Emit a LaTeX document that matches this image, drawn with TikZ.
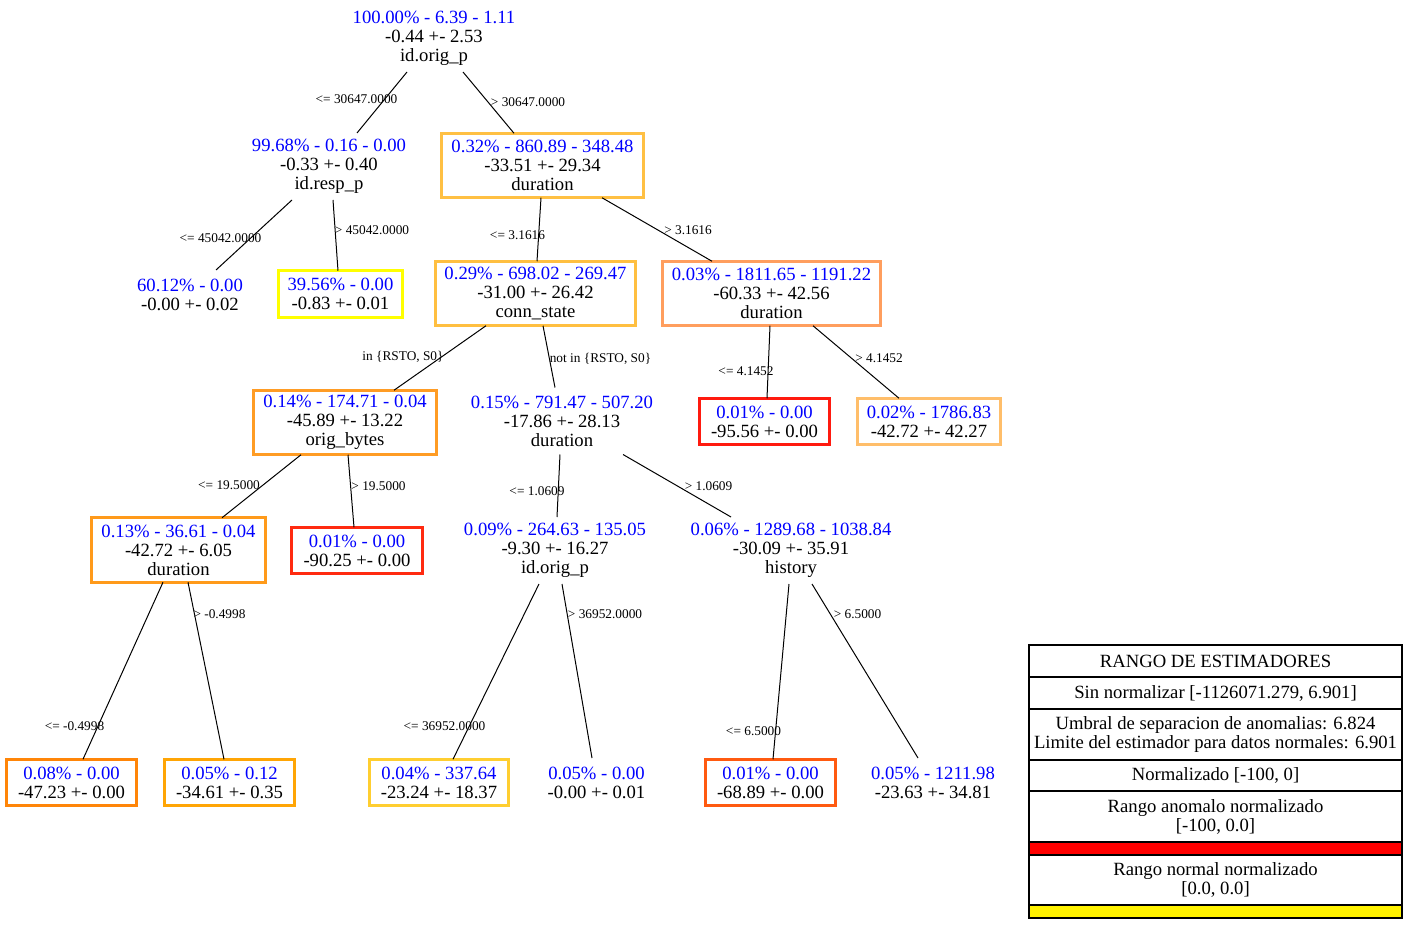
\documentclass[tikz,border=0pt]{standalone}
\usepackage{fontspec}
\setmainfont{Liberation Serif}
\usepackage{tikz}
\usepackage{xcolor}
\usetikzlibrary{positioning}

\definecolor{cDurTop}{HTML}{FFC043}
\definecolor{cConn}{HTML}{FFBF40}
\definecolor{cRespGt}{HTML}{FFFF00}
\definecolor{cDurHi}{HTML}{FF9E5E}
\definecolor{cBytes}{HTML}{FF9C24}
\definecolor{cRed}{HTML}{FF1A0F}
\definecolor{cPeach}{HTML}{FFBE6A}
\definecolor{cBytesLe}{HTML}{FF9A1A}
\definecolor{cRedOr}{HTML}{FF2A10}
\definecolor{cDark}{HTML}{FF8508}
\definecolor{cOrange}{HTML}{FFA505}
\definecolor{cGold}{HTML}{FFCE30}
\definecolor{cFlame}{HTML}{FF5A10}

\begin{document}
\begin{tikzpicture}[
    x=1pt, y=-1pt,
    font=\fontsize{18.67}{19}\selectfont,
    node distance=0pt,
    split/.style={draw, line width=2.6pt, align=center, minimum height=64.5pt, inner sep=0pt, outer sep=0pt},
    leaf/.style={draw, line width=2.6pt, align=center, minimum height=46.5pt, inner sep=0pt, outer sep=0pt},
    bare/.style={align=center, minimum height=67pt, inner sep=0pt, outer sep=0pt},
    cond/.style={font=\fontsize{13.33}{14}\selectfont, inner sep=0pt},
    link/.style={line width=1pt},
    legrow/.style={draw, line width=1.3pt, align=center, minimum width=373pt, inner sep=0pt, outer sep=0pt}
]
\useasboundingbox (0,0) rectangle (1408,925);

\node[bare] (origp) at (434,38.5) {\textcolor{blue}{100.00\% - 6.39 - 1.11}\\-0.44 +- 2.53\\id.orig\_p};
\node[bare] (respp) at (329,166.5) {\textcolor{blue}{99.68\% - 0.16 - 0.00}\\-0.33 +- 0.40\\id.resp\_p};
\node[split, draw=cDurTop, minimum width=202.4pt] (durtop) at (542.5,165.5) {\textcolor{blue}{0.32\% - 860.89 - 348.48}\\-33.51 +- 29.34\\duration};
\node[bare, minimum height=49pt] (respleft) at (190,294.5) {\textcolor{blue}{60.12\% - 0.00}\\-0.00 +- 0.02};
\node[leaf, draw=cRespGt, minimum width=124.4pt] (respright) at (340.5,294) {\textcolor{blue}{39.56\% - 0.00}\\-0.83 +- 0.01};
\node[split, draw=cConn, minimum width=200.4pt] (connstate) at (535.5,293.5) {\textcolor{blue}{0.29\% - 698.02 - 269.47}\\-31.00 +- 26.42\\conn\_state};
\node[split, draw=cDurHi, minimum width=218.4pt] (durhigh) at (771.5,293.5) {\textcolor{blue}{0.03\% - 1811.65 - 1191.22}\\-60.33 +- 42.56\\duration};
\node[split, draw=cBytes, minimum width=183.4pt] (origbytes) at (345,422.5) {\textcolor{blue}{0.14\% - 174.71 - 0.04}\\-45.89 +- 13.22\\orig\_bytes};
\node[bare] (durmid) at (562,421) {\textcolor{blue}{0.15\% - 791.47 - 507.20}\\-17.86 +- 28.13\\duration};
\node[leaf, draw=cRed, minimum width=130.4pt] (durhighle) at (764.5,421.5) {\textcolor{blue}{0.01\% - 0.00}\\-95.56 +- 0.00};
\node[leaf, draw=cPeach, minimum width=143.4pt] (durhighgt) at (929,421.5) {\textcolor{blue}{0.02\% - 1786.83}\\-42.72 +- 42.27};
\node[split, draw=cBytesLe, minimum width=174.4pt] (durlow) at (178.5,550) {\textcolor{blue}{0.13\% - 36.61 - 0.04}\\-42.72 +- 6.05\\duration};
\node[leaf, draw=cRedOr, minimum width=131.4pt] (bytesgt) at (357,550.5) {\textcolor{blue}{0.01\% - 0.00}\\-90.25 +- 0.00};
\node[bare] (origplow) at (555,550.5) {\textcolor{blue}{0.09\% - 264.63 - 135.05}\\-9.30 +- 16.27\\id.orig\_p};
\node[bare] (history) at (791,550.5) {\textcolor{blue}{0.06\% - 1289.68 - 1038.84}\\-30.09 +- 35.91\\history};
\node[leaf, draw=cDark, minimum width=130.4pt] (durlowle) at (71.5,782.5) {\textcolor{blue}{0.08\% - 0.00}\\-47.23 +- 0.00};
\node[leaf, draw=cOrange, minimum width=130.4pt] (durlowgt) at (229.5,782.5) {\textcolor{blue}{0.05\% - 0.12}\\-34.61 +- 0.35};
\node[leaf, draw=cGold, minimum width=139.4pt] (origple) at (439,782.5) {\textcolor{blue}{0.04\% - 337.64}\\-23.24 +- 18.37};
\node[bare, minimum height=49pt] (origpgt) at (596.5,782.5) {\textcolor{blue}{0.05\% - 0.00}\\-0.00 +- 0.01};
\node[leaf, draw=cFlame, minimum width=130.4pt] (histle) at (770.5,782.5) {\textcolor{blue}{0.01\% - 0.00}\\-68.89 +- 0.00};
\node[bare, minimum height=49pt] (histgt) at (933,782.5) {\textcolor{blue}{0.05\% - 1211.98}\\-23.63 +- 34.81};

\draw[link] ([xshift=-27pt]origp.south) -- ([xshift=28pt]respp.north);
\draw[link] ([xshift=29pt]origp.south) -- ([xshift=-28.5pt]durtop.north);
\draw[link] ([xshift=-37pt]respp.south) -- ([xshift=26pt]respleft.north);
\draw[link] ([xshift=4pt]respp.south) -- ([xshift=-2.5pt]respright.north);
\draw[link] ([xshift=-1.5pt]durtop.south) -- ([xshift=1.5pt]connstate.north);
\draw[link] ([xshift=59.5pt]durtop.south) -- ([xshift=-59.5pt]durhigh.north);
\draw[link] ([xshift=-49.5pt]connstate.south) -- ([xshift=49pt]origbytes.north);
\draw[link] ([xshift=7.5pt]connstate.south) -- ([xshift=-7pt]durmid.north);
\draw[link] ([xshift=-1.5pt]durhigh.south) -- ([xshift=2.5pt]durhighle.north);
\draw[link] ([xshift=41.5pt]durhigh.south) -- ([xshift=-30pt]durhighgt.north);
\draw[link] ([xshift=-44pt]origbytes.south) -- ([xshift=43.5pt]durlow.north);
\draw[link] ([xshift=3pt]origbytes.south) -- ([xshift=-3pt]bytesgt.north);
\draw[link] ([xshift=-2pt]durmid.south) -- ([xshift=2pt]origplow.north);
\draw[link] ([xshift=61pt]durmid.south) -- ([xshift=-60pt]history.north);
\draw[link] ([xshift=-15.5pt]durlow.south) -- ([xshift=11.5pt]durlowle.north);
\draw[link] ([xshift=9.5pt]durlow.south) -- ([xshift=-5.5pt]durlowgt.north);
\draw[link] ([xshift=-16pt]origplow.south) -- ([xshift=14pt]origple.north);
\draw[link] ([xshift=7pt]origplow.south) -- ([xshift=-4.5pt]origpgt.north);
\draw[link] ([xshift=-2pt]history.south) -- ([xshift=2.5pt]histle.north);
\draw[link] ([xshift=21pt]history.south) -- ([xshift=-15pt]histgt.north);

\node[cond] (origple1) at (356.5,99.5) {<= 30647.0000};
\node[cond] (origpgt1) at (528,102.5) {> 30647.0000};
\node[cond] (resple) at (220.5,238) {<= 45042.0000};
\node[cond] (respgt) at (372,230.5) {> 45042.0000};
\node[cond] (durle1) at (517.5,235) {<= 3.1616};
\node[cond] (durgt1) at (688,230.5) {> 3.1616};
\node[cond] (connin) at (403,356.5) {in \{RSTO, S0\}};
\node[cond] (connnotin) at (600.5,358.5) {not in \{RSTO, S0\}};
\node[cond] (durle2) at (746,371.5) {<= 4.1452};
\node[cond] (durgt2) at (879,358.5) {> 4.1452};
\node[cond] (bytesle) at (229,485) {<= 19.5000};
\node[cond] (bytesgtc) at (378.5,486.5) {> 19.5000};
\node[cond] (durle3) at (537,491) {<= 1.0609};
\node[cond] (durgt3) at (708.5,486.5) {> 1.0609};
\node[cond] (durle4) at (74.5,726) {<= -0.4998};
\node[cond] (durgt4) at (219.5,614) {> -0.4998};
\node[cond] (origple2) at (444.5,726) {<= 36952.0000};
\node[cond] (origpgt2) at (605,614) {> 36952.0000};
\node[cond] (histle1) at (753.5,731) {<= 6.5000};
\node[cond] (histgt1) at (857.5,614) {> 6.5000};

\node[legrow, minimum height=32pt] (rangotitle) at (1215.5,661) {RANGO DE ESTIMADORES};
\node[legrow, minimum height=32pt, below=of rangotitle] (sinnorm) {Sin normalizar [-1126071.279, 6.901]};
\node[legrow, minimum height=51pt, below=of sinnorm] (umbral) {Umbral de separacion de anomalias: 6.824\\Limite del estimador para datos normales: 6.901};
\node[legrow, minimum height=31pt, below=of umbral] (normrange) {Normalizado [-100, 0]};
\node[legrow, minimum height=51pt, below=of normrange] (anomrange) {Rango anomalo normalizado\\{}[-100, 0.0]};
\node[legrow, minimum height=13pt, fill=red, below=of anomrange] (anombar) {};
\node[legrow, minimum height=50pt, below=of anombar] (normalrange) {Rango normal normalizado\\{}[0.0, 0.0]};
\node[legrow, minimum height=13pt, fill=yellow, below=of normalrange] (normalbar) {};
\end{tikzpicture}
\end{document}
